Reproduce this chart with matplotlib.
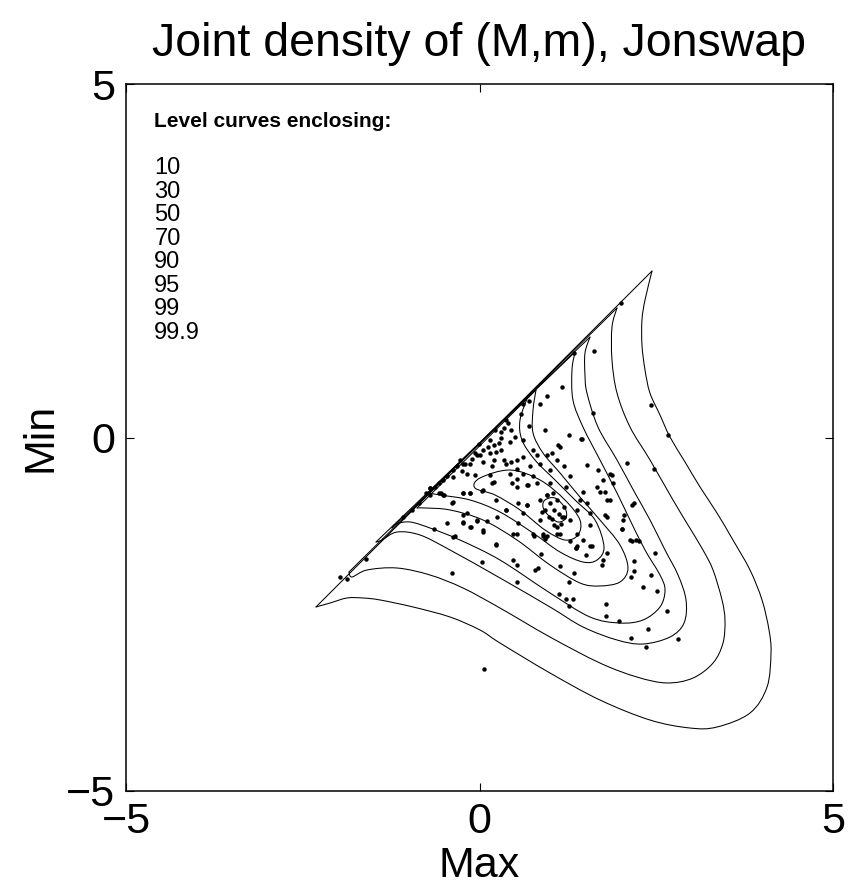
import matplotlib
matplotlib.use("Agg")
import matplotlib.pyplot as plt
from matplotlib.path import Path
from matplotlib.patches import PathPatch
import numpy as np

plt.rcParams['font.family'] = ['Liberation Sans', 'DejaVu Sans']

title = "Joint density of (M,m), Jonswap"
xlabel = "Max"
ylabel = "Min"
ticks = [-5, 0, 5]
legend_head = "Level curves enclosing:"
levels = ["10", "30", "50", "70", "90", "95", "99", "99.9"]

# level curves (Max, Min).
# open curves: point 0 = lower tip on the diagonal, point 1 = upper tip,
# then the curved boundary back to the lower tip.
c999_x = [-2.313, 2.440, 2.341, 2.298, 2.298, 2.341, 2.411, 2.553, 2.694, 2.907, 3.119, 3.359, 3.585, 3.826, 3.996, 4.095, 4.123, 4.067, 3.826, 3.359, 2.977, 2.411, 1.704, 0.997, 0.290, 0.007, -0.417, -0.941, -1.407, -1.648, -1.874, -2.114, -2.313]
c999_y = [-2.397, 2.355, 1.945, 1.662, 1.308, 0.955, 0.629, 0.318, 0.007, -0.346, -0.700, -1.068, -1.450, -1.874, -2.298, -2.723, -3.048, -3.529, -3.897, -4.095, -4.109, -3.996, -3.713, -3.331, -2.907, -2.723, -2.539, -2.397, -2.298, -2.270, -2.270, -2.341, -2.397]

c99_x = [-1.846, 1.945, 1.874, 1.874, 1.945, 2.129, 2.412, 2.737, 2.949, 3.161, 3.303, 3.430, 3.472, 3.444, 3.303, 3.020, 2.652, 2.228, 1.704, 0.997, 0.290, -0.233, -0.700, -1.167, -1.591, -1.803, -1.846]
c99_y = [-1.902, 1.832, 1.563, 1.096, 0.629, 0.148, -0.318, -0.884, -1.238, -1.591, -1.874, -2.298, -2.581, -2.907, -3.190, -3.402, -3.472, -3.388, -3.190, -2.822, -2.412, -2.129, -1.945, -1.846, -1.874, -1.973, -1.902]

c95_x = [-1.464, 1.563, 1.492, 1.492, 1.520, 1.676, 1.945, 2.199, 2.412, 2.624, 2.808, 2.921, 2.893, 2.694, 2.313, 1.945, 1.464, 0.997, 0.290, -0.417, -0.842, -1.167, -1.379, -1.464]
c95_y = [-1.478, 1.421, 1.195, 0.884, 0.629, 0.148, -0.318, -0.785, -1.167, -1.591, -1.945, -2.298, -2.624, -2.822, -2.921, -2.864, -2.680, -2.397, -1.987, -1.591, -1.379, -1.337, -1.450, -1.478]

c90_x = [-1.238, 1.351, 1.308, 1.322, 1.464, 1.704, 1.945, 2.129, 2.341, 2.553, 2.624, 2.553, 2.313, 1.987, 1.563, 0.997, 0.290, -0.276, -0.700, -0.983, -1.181, -1.238]
c90_y = [-1.280, 1.209, 0.955, 0.530, 0.148, -0.318, -0.785, -1.167, -1.591, -1.945, -2.157, -2.397, -2.581, -2.624, -2.539, -2.199, -1.733, -1.450, -1.280, -1.195, -1.223, -1.280]

c70_x = [-0.884, 0.799, 0.757, 0.757, 0.898, 1.139, 1.421, 1.704, 1.987, 2.100, 1.987, 1.704, 1.421, 0.997, 0.530, 0.050, -0.417, -0.771, -0.884]
c70_y = [-0.997, 0.672, 0.389, 0.064, -0.219, -0.502, -0.842, -1.167, -1.520, -1.846, -2.044, -2.100, -2.058, -1.803, -1.450, -1.167, -1.025, -0.997, -0.997]

c50_x = [-0.728, 0.686, 0.573, 0.601, 0.785, 1.068, 1.351, 1.634, 1.761, 1.662, 1.464, 1.139, 0.757, 0.290, -0.134, -0.559, -0.728]
c50_y = [-0.785, 0.587, 0.248, -0.035, -0.318, -0.601, -0.884, -1.167, -1.549, -1.733, -1.761, -1.620, -1.351, -1.054, -0.884, -0.813, -0.785]

# closed loops
c30_x = [0.007, 0.431, 0.856, 1.209, 1.421, 1.393, 1.209, 0.926, 0.573, 0.219, -0.064]
c30_y = [-0.573, -0.460, -0.601, -0.884, -1.167, -1.379, -1.450, -1.308, -1.025, -0.813, -0.714]

c10_x = [0.926, 1.068, 1.209, 1.224, 1.110, 0.969, 0.898]
c10_y = [-0.884, -0.856, -0.997, -1.139, -1.195, -1.096, -0.983]

# simulated (Max, Min) pairs
pts_x = [2.00, 1.62, 1.16, 0.95, 0.86, 1.60, 2.43, 2.67, 0.70, 1.27, 1.45, 0.93, 0.34, 0.43, 0.20, 0.15, 0.31, 0.50, 0.61,
         0.05, 0.15, 0.24, -0.04, -0.13, -0.23, -0.32, -0.37, -0.18, 0.05, 0.20, 0.38, 0.53, 0.62, 0.76, 0.81, 0.95, 1.02,
         1.14, 1.09, 0.86, 0.72, 0.53, 0.43, 0.62, 0.76, 1.00, 1.19, 1.28, 1.23, 1.00, 0.81, 0.67, 0.53, 0.46, 0.20, 0.05,
         -0.13, -0.23, -0.37, -0.18, -0.23, -0.04, 0.05, -0.13, 0.24, 0.38, 0.62, 0.67, 0.86, 0.95, 1.04, 1.09, 1.00, 0.93,
         0.86, 0.90, 1.09, 1.19, 1.28, 1.38, 1.42, 1.47, 1.52, 1.56, 1.66, 1.70, 1.75, 1.85, 1.89, 1.80, 1.80, 2.03, 2.18,
         2.08, 2.47, 1.52, 1.68, 1.38, 1.47, 1.14, 0.95, 0.76, 0.53, 0.24, -0.35, 1.38, 1.56, 2.13, 2.22,
         -1.97, -1.88, -1.61, -1.08, -0.65, -0.46, -0.37, -0.39, -0.24, -0.23, -0.12, -0.04, 0.05, 0.10, 0.23, 0.25, 0.04,
         0.48, 0.53, 0.53, 0.78, 0.83, 0.87, 0.48, 0.54, 0.77, 0.90, 0.93, 1.09, 1.12, 1.22, 1.26, 1.32, 1.26, 1.33, 1.14,
         1.36, 1.28, 0.06, -0.24, -0.13, 0.03, 0.18, 0.69, 0.95, 1.16, 0.38, 0.55, 0.67, -0.39, -0.51, -0.70, -0.57,
         1.44, 1.11, 1.87, 1.77, 1.85, 2.16, 2.04, 1.77, 1.56, 2.02, 1.51, 1.59, 1.37, 1.80, 1.75, 1.73, 1.79, 1.79, 1.98,
         2.14, 2.36, 2.38, 2.65, 2.81, 2.51, 2.31, 2.14, 2.18, 2.19, 2.42, 2.48, 2.15, 2.25, 2.02, 0.92, 1.05,
         0.41, 0.45, 0.31, 0.12, 0.01, -0.06, -0.11, -0.21, -0.28, -0.25, 0.31, 0.34, 0.45, 0.27, 0.17, 0.15, -0.06,
         -0.37, 0.53, -0.50, -0.70,
         -0.46, -0.51, -0.57, -0.63, -0.70, -0.54, -0.75, -0.85, -0.95, 0.62, 0.70, 0.38, 0.22, -0.01, 0.58, 1.34,
         1.05, 1.12, 0.98, 1.15, 1.02, 0.88, 1.20]
pts_y = [1.90, 1.23, 0.71, 0.58, 0.47, 0.35, 0.46, 0.04, 0.16, 0.04, -0.02, 0.10, 0.13, -0.06, -0.11, -0.04, -0.01, 0.01,
         -0.04, -0.18, -0.22, -0.21, -0.25, -0.37, -0.37, -0.41, -0.46, -0.51, -0.34, -0.32, -0.37, -0.32, -0.27, -0.18,
         -0.25, -0.25, -0.22, -0.13, -0.32, -0.37, -0.41, -0.44, -0.51, -0.51, -0.55, -0.46, -0.41, -0.55, -0.70, -0.65,
         -0.65, -0.67, -0.70, -0.65, -0.625, -0.74, -0.79, -0.79, -0.91, -1.07, -1.19, -1.17, -1.31, -1.26, -0.88, -1.03,
         -1.07, -0.955, -0.88, -0.81, -0.79, -0.88, -0.93, -1.03, -1.17, -1.36, -1.26, -1.12, -1.17, -1.03, -0.88, -0.77,
         -0.93, -1.07, -0.70, -0.77, -0.60, -0.51, -0.65, -0.88, -1.12, -1.17, -0.93, -0.365, -0.44, -0.39, -0.46, -1.36,
         -1.45, -1.36, -1.40, -1.36, -1.36, -1.52, -1.40, -1.54, -1.54, -1.45, -1.45,
         -1.98, -2.00, -1.72, -1.13, -1.30, -1.21, -1.41, -1.92, -1.10, -1.21, -1.26, -1.18, -1.33, -1.18, -1.51, -1.12,
         -1.76, -1.73, -1.80, -2.05, -1.87, -1.84, -1.65, -1.37, -1.21, -1.40, -1.40, -1.44, -1.36, -2.21, -2.28, -2.38,
         -2.29, -2.05, -1.91, -1.82, -1.57, -1.46, -3.28, -0.79, -0.79, -0.75, -0.65, -0.67, -0.81, -1.12, -1.02, -0.93,
         -0.95, -0.92, -0.81, -0.81, -0.78,
         -0.02, -0.11, -0.53, -0.77, -0.88, -0.95, -1.10, -1.10, -1.24, -1.30, -1.66, -1.53, -1.57, -1.64, -1.73, -1.80,
         -2.35, -2.52, -2.60, -2.83, -2.96, -2.71, -2.45, -2.85, -2.17, -2.12, -1.97, -1.89, -1.74, -1.95, -1.63, -1.46,
         -1.46, -1.30, -1.41, -1.24,
         0.21, 0.11, 0.08, -0.13, -0.25, -0.22, -0.30, -0.37, -0.32, -0.48, -0.18, -0.32, -0.34, -0.08, -0.41, -0.53,
         -0.53, -0.56, -0.58, -0.81, -0.72,
         -0.55, -0.60, -0.64, -0.70, -0.72, -0.79, -0.79, -0.93, -1.02, 0.48, 0.52, 0.25, 0.10, -0.09, 0.33, 1.20,
         -1.02, -1.08, -1.12, -1.22, -1.15, -1.05, -0.98]

open_curves = [(c999_x, c999_y), (c99_x, c99_y), (c95_x, c95_y), (c90_x, c90_y),
               (c70_x, c70_y), (c50_x, c50_y)]
closed_curves = [(c30_x, c30_y), (c10_x, c10_y)]


def smooth_path(px, py, closed):
    """Path through the traced points, drawn as cubic Bezier pieces."""
    p = np.column_stack([px, py]).astype(float)
    n = len(p)
    verts = [p[0]]
    codes = [Path.MOVETO]
    m = n if closed else n - 1
    for i in range(m):
        i0 = (i - 1) % n if closed else max(i - 1, 0)
        i2 = (i + 1) % n if closed else i + 1
        i3 = (i + 2) % n if closed else min(i + 2, n - 1)
        c1 = p[i] + (p[i2] - p[i0]) / 6.0
        c2 = p[i2] - (p[i3] - p[i]) / 6.0
        verts += [c1, c2, p[i2]]
        codes += [Path.CURVE4] * 3
    return Path(verts, codes)


fig = plt.figure(figsize=(8.58, 8.86), dpi=100)
ax = fig.add_axes([126/858, 95/886, 707/858, 707/886])

for cx, cy in open_curves:
    # straight run along the diagonal
    ax.plot(cx[:2], cy[:2], color='black', lw=0.75)
    # curved boundary from the upper tip back to the lower tip
    ax.add_patch(PathPatch(smooth_path(cx[1:], cy[1:], False), fc='none', ec='black', lw=0.75))
for cx, cy in closed_curves:
    ax.add_patch(PathPatch(smooth_path(cx, cy, True), fc='none', ec='black', lw=0.75))

ax.plot(pts_x, pts_y, 'o', color='black', ms=3.2, mec='none')

ax.set_xlim(-5, 5)
ax.set_ylim(-5, 5)
ax.set_xticks(ticks)
ax.set_yticks(ticks)
ax.set_xticklabels(["\u22125", "0", "5"])
ax.set_yticklabels(["\u22125", "0", "5"])
ax.tick_params(direction='in', length=6, width=0.8, labelsize=31, top=True, right=True, pad=8)
for s in ax.spines.values():
    s.set_linewidth(1.1)

ax.set_title(title, fontsize=33.5, pad=20)
ax.set_xlabel(xlabel, fontsize=31, labelpad=3)
ax.set_ylabel(ylabel, fontsize=31, labelpad=4)

ax.text(-4.6, 4.47, legend_head, fontsize=15, fontweight='bold', va='center', ha='left')
for i, lv in enumerate(levels):
    ax.text(-4.6, 3.81 - i * 0.333, lv, fontsize=17, va='center', ha='left')

fig.savefig("out.png", dpi=100)
